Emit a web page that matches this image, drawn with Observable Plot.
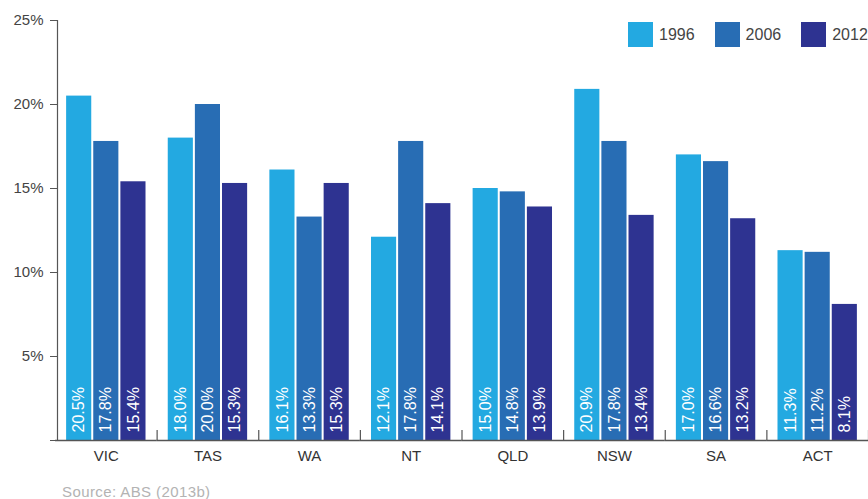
<!DOCTYPE html>
<html>
<head>
<meta charset="utf-8">
<script src="https://cdn.jsdelivr.net/npm/d3@7"></script>
<script src="https://cdn.jsdelivr.net/npm/@observablehq/plot@0.6"></script>
<style>
  html, body { margin: 0; padding: 0; background: #fff; }
  body { width: 868px; height: 499px; position: relative; overflow: hidden;
         font-family: "Liberation Sans", Arial, sans-serif; }
  #chart { position: absolute; left: 0; top: 0; }
  #legend { position: absolute; top: 22px; left: 628px; display: flex; gap: 20px;
            font-size: 16px; color: #444; }
  #legend .item { display: flex; align-items: center; gap: 6px; }
  #legend .sw { width: 25px; height: 25px; display: inline-block; }
  #source { position: absolute; left: 62px; top: 483px; font-size: 15px; letter-spacing: 0.4px;
            color: #b3b3b3; line-height: 18px; }
</style>
</head>
<body>
<div id="chart"></div>
<div id="legend"></div>
<div id="source">Source: ABS (2013b)</div>
<script>
// States in display order and the three census years
const states = ["VIC", "TAS", "WA", "NT", "QLD", "NSW", "SA", "ACT"];
const years = ["1996", "2006", "2012"];
const colors = ["#23a9e1", "#286db4", "#2e3391"];

// Percentage for each state, one array per year
const values1996 = [20.5, 18.0, 16.1, 12.1, 15.0, 20.9, 17.0, 11.3];
const values2006 = [17.8, 20.0, 13.3, 17.8, 14.8, 17.8, 16.6, 11.2];
const values2012 = [15.4, 15.3, 15.3, 14.1, 13.9, 13.4, 13.2, 8.1];

const yTicks = [0, 5, 10, 15, 20, 25];

const series = [values1996, values2006, values2012];
const rows = [];
states.forEach((s, i) => {
  years.forEach((y, j) => rows.push({state: s, year: y, value: series[j][i]}));
});

const axisColor = "#555";

const chart = Plot.plot({
  width: 868,
  height: 470,
  marginLeft: 55,
  marginRight: 0,
  marginTop: 20,
  marginBottom: 30,
  style: {fontFamily: "'Liberation Sans', Arial, sans-serif", background: "#fff"},
  fx: {domain: states, padding: 0, round: false},
  x: {domain: years, paddingInner: 0.074, paddingOuter: 0.41, round: false, axis: null},
  y: {domain: [0, 25], axis: null},
  color: {domain: years, range: colors},
  marks: [
    Plot.barY(rows, {fx: "state", x: "year", y: "value", fill: "year"}),
    Plot.text(rows, {
      fx: "state", x: "year", y: 0,
      text: d => d.value.toFixed(1) + "%",
      rotate: -90, textAnchor: "start", dy: -8,
      fill: "white", fontSize: 16
    }),
    // group separator ticks along the baseline
    Plot.frame({anchor: "right", insetTop: 410, stroke: axisColor, strokeWidth: 1.2}),
    // vertical y-axis line, sitting just inside the first group
    Plot.frame({anchor: "left", facet: "super", dx: 2, stroke: axisColor, strokeWidth: 1.2}),
    Plot.ruleY([0], {stroke: axisColor, strokeWidth: 1.5}),
    Plot.axisY({
      ticks: yTicks, tickSize: 7, tickPadding: 7, dx: 2, stroke: axisColor,
      tickFormat: d => d === 0 ? "" : d + "%",
      fontSize: 15, fill: "#444", label: null
    }),
    Plot.axisFx({
      anchor: "bottom", tickSize: 0, tickPadding: 10,
      fontSize: 15, fill: "#333", label: null
    })
  ]
});
document.getElementById("chart").appendChild(chart);

// Legend
const legend = document.getElementById("legend");
years.forEach((y, i) => {
  const item = document.createElement("div");
  item.className = "item";
  item.innerHTML = `<span class="sw" style="background:${colors[i]}"></span><span>${y}</span>`;
  legend.appendChild(item);
});
</script>
</body>
</html>
